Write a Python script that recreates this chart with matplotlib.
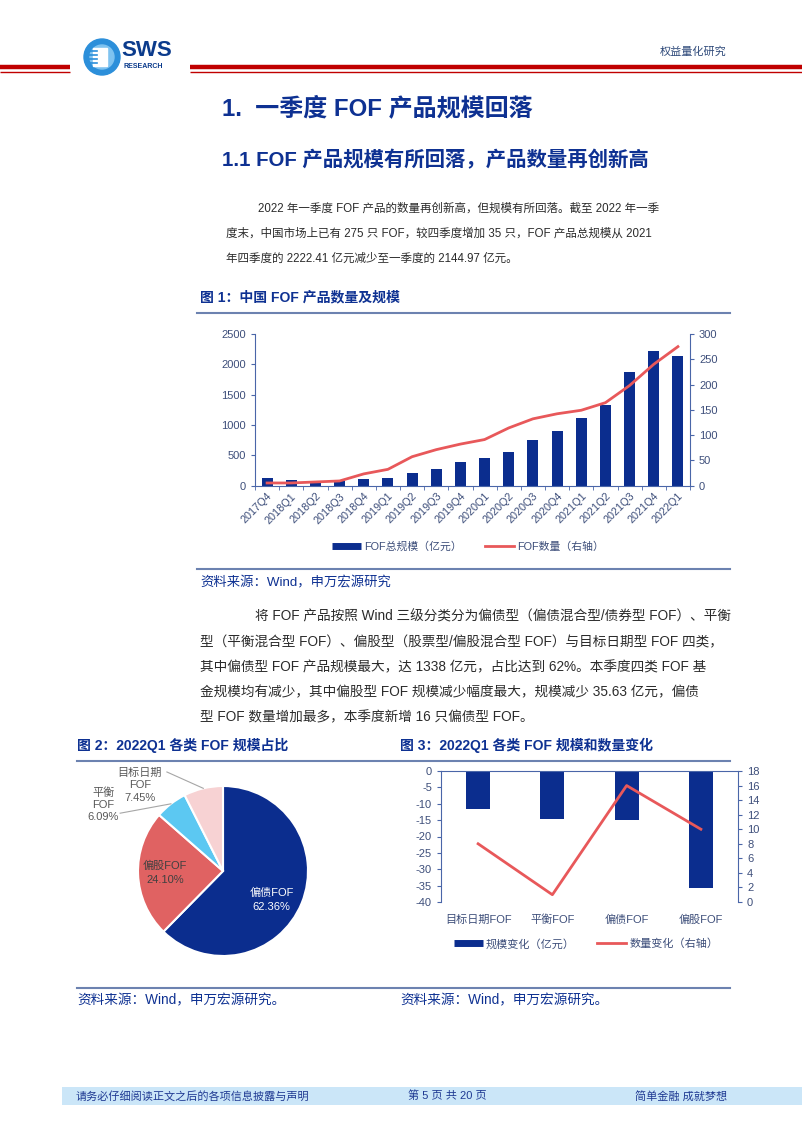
import matplotlib
matplotlib.use('Agg')
import matplotlib.pyplot as plt
from matplotlib.patches import Rectangle, Circle
from matplotlib.lines import Line2D
import numpy as np

plt.rcParams['font.family'] = ['Liberation Sans', 'Noto Sans CJK SC', 'DejaVu Sans']
plt.rcParams['axes.unicode_minus'] = False

# ---- data ----
quarters = ['2017Q4', '2018Q1', '2018Q2', '2018Q3', '2018Q4', '2019Q1', '2019Q2',
            '2019Q3', '2019Q4', '2020Q1', '2020Q2', '2020Q3', '2020Q4', '2021Q1',
            '2021Q2', '2021Q3', '2021Q4', '2022Q1']
fof_scale = [122, 88, 52, 70, 100, 122, 199, 271, 382, 459, 553, 747, 907, 1117,
             1333, 1880, 2222.41, 2144.97]
fof_count = [5, 5, 7, 9, 23, 32, 57, 71, 82, 91, 114, 132, 142, 149, 164, 198, 240, 275]

pie_names = ['偏债FOF', '偏股FOF', '平衡\nFOF', '目标日期\nFOF']
pie_share = [62.36, 24.10, 6.09, 7.45]

fof_types = ['目标日期FOF', '平衡FOF', '偏债FOF', '偏股FOF']
scale_change = [-11.6, -14.7, -14.9, -35.63]
count_change = [8, 1, 16, 10]

para1 = ['2022 年一季度 FOF 产品的数量再创新高，但规模有所回落。截至 2022 年一季',
         '度末，中国市场上已有 275 只 FOF，较四季度增加 35 只，FOF 产品总规模从 2021',
         '年四季度的 2222.41 亿元减少至一季度的 2144.97 亿元。']
para2 = ['将 FOF 产品按照 Wind 三级分类分为偏债型（偏债混合型/债券型 FOF）、平衡',
         '型（平衡混合型 FOF）、偏股型（股票型/偏股混合型 FOF）与目标日期型 FOF 四类，',
         '其中偏债型 FOF 产品规模最大，达 1338 亿元，占比达到 62%。本季度四类 FOF 基',
         '金规模均有减少，其中偏股型 FOF 规模减少幅度最大，规模减少 35.63 亿元，偏债',
         '型 FOF 数量增加最多，本季度新增 16 只偏债型 FOF。']

BLUE = '#0B2D8E'
RED = '#E8585A'
TITLE = '#0E3192'
TICK = '#3D4E7A'
SPINE = '#4A66A8'
RULE = '#6C82B0'
BODY = '#2B2B2B'

W, H = 802, 1133


def box(x0, y0, x1, y1):
    return [x0 / W, 1 - y1 / H, (x1 - x0) / W, (y1 - y0) / H]


fig = plt.figure(figsize=(W / 100, H / 100), dpi=100)
bg = fig.add_axes([0, 0, 1, 1])
bg.set_xlim(0, W)
bg.set_ylim(H, 0)
bg.axis('off')

# ---- header ----
bg.add_patch(Circle((102, 57), 18, color='#2C8FDA'))
bg.add_patch(Circle((102, 57), 12, color='#7FC3F0'))
bg.add_patch(Rectangle((93, 48), 14, 18, color='white'))
for yy in (51, 55, 59, 63):
    bg.plot([86, 97], [yy, yy], color='#2C8FDA', lw=1.2)
bg.text(121, 51, 'SWS', fontsize=16, fontweight='bold', color='#0B3B8C', va='center')
bg.text(123, 67, 'RESEARCH', fontsize=5, fontweight='bold', color='#0B3B8C', va='center')
bg.plot([190, W], [66.5, 66.5], color='#C00000', lw=3.2, solid_capstyle='butt')
bg.plot([190, W], [72, 72], color='#C00000', lw=1, solid_capstyle='butt')
bg.plot([0, 70], [66.5, 66.5], color='#C00000', lw=3.2, solid_capstyle='butt')
bg.plot([0, 70], [72, 72], color='#C00000', lw=1, solid_capstyle='butt')
bg.text(727, 52, '权益量化研究', fontsize=8, color='#2F4A7A', ha='right', va='center')

# ---- titles and body text ----
bg.text(222, 108, '1.  一季度 FOF 产品规模回落', fontsize=17.3, fontweight='bold',
        color=TITLE, va='center')
bg.text(222, 160, '1.1 FOF 产品规模有所回落，产品数量再创新高', fontsize=14.7,
        fontweight='bold', color=TITLE, va='center')

for i, line in enumerate(para1):
    bg.text(258 if i == 0 else 226, 209 + i * 25, line, fontsize=8.3, color=BODY, va='center')

bg.text(200, 297, '图 1：中国 FOF 产品数量及规模', fontsize=10, fontweight='bold',
        color=TITLE, va='center')
bg.plot([197, 730], [313, 313], color=RULE, lw=1.5)
bg.plot([197, 730], [569, 569], color=RULE, lw=1.5)
bg.text(200, 583, '资料来源：Wind，申万宏源研究', fontsize=9.6, color=TITLE, va='center')

for i, line in enumerate(para2):
    bg.text(255 if i == 0 else 200, 617 + i * 25, line, fontsize=9.8, color=BODY, va='center')

bg.text(77, 745, '图 2：2022Q1 各类 FOF 规模占比', fontsize=10, fontweight='bold',
        color=TITLE, va='center')
bg.text(400, 745, '图 3：2022Q1 各类 FOF 规模和数量变化', fontsize=10, fontweight='bold',
        color=TITLE, va='center')
bg.plot([77, 730], [761, 761], color=RULE, lw=1.5)
bg.plot([77, 730], [988, 988], color=RULE, lw=1.5)
bg.text(77, 1000, '资料来源：Wind，申万宏源研究。', fontsize=9.8, color=TITLE, va='center')
bg.text(400, 1000, '资料来源：Wind，申万宏源研究。', fontsize=9.8, color=TITLE, va='center')

# ---- footer ----
bg.add_patch(Rectangle((62, 1087), W - 62, 18, color='#CBE6F8', lw=0))
bg.text(76, 1096, '请务必仔细阅读正文之后的各项信息披露与声明', fontsize=8, color='#1F3A93', va='center')
bg.text(447, 1096, '第 5 页 共 20 页', fontsize=8, color='#1F3A93', va='center', ha='center')
bg.text(727, 1096, '简单金融 成就梦想', fontsize=8, color='#1F3A93', va='center', ha='right')

# ---- chart 1 ----
x = np.arange(len(quarters))
ax1 = fig.add_axes(box(255, 334, 690, 485.5))
ax1.bar(x, fof_scale, width=0.45, color=BLUE, zorder=2)
ax1.set_xlim(-0.5, len(quarters) - 0.5)
ax1.set_ylim(0, 2500)
ax1.set_yticks(range(0, 2501, 500))
ax1.set_xticks(x)
ax1.set_xticklabels(quarters, rotation=45, ha='right', rotation_mode='anchor')
ax1.set_xticks(np.arange(-0.5, len(quarters), 1), minor=True)
ax1.tick_params(axis='x', which='major', length=0, labelsize=7.8, labelcolor=TICK, pad=4)
ax1.tick_params(axis='x', which='minor', length=3, color=SPINE)
ax1.tick_params(axis='y', length=3, color=SPINE, labelsize=8, labelcolor=TICK)
for s in ('top', 'right'):
    ax1.spines[s].set_visible(False)
for s in ('left', 'bottom'):
    ax1.spines[s].set_color(SPINE)
ax1.patch.set_alpha(0)

ax1r = ax1.twinx()
ax1r.plot(x, fof_count, color=RED, lw=2)
ax1r.set_ylim(0, 300)
ax1r.set_yticks(range(0, 301, 50))
ax1r.tick_params(axis='y', length=3, color=SPINE, labelsize=8, labelcolor=TICK)
for s in ('top', 'left', 'bottom'):
    ax1r.spines[s].set_visible(False)
ax1r.spines['right'].set_color(SPINE)

h1 = [Line2D([0], [0], color=BLUE, lw=5, solid_capstyle='butt'),
      Line2D([0], [0], color=RED, lw=2)]
fig.legend(h1, ['FOF总规模（亿元）', 'FOF数量（右轴）'], loc='center',
           bbox_to_anchor=(468 / W, 1 - 547 / H), ncol=2, frameon=False, fontsize=7.8,
           handlelength=2.6, handletextpad=0.3, columnspacing=2.2, labelcolor=TICK)

# ---- chart 2: pie ----
axp = fig.add_axes(box(138, 786, 308, 956))
pie_colors = ['#0B2D8E', '#E06262', '#5CC8F2', '#F7D2D3']
axp.pie(pie_share, colors=pie_colors, startangle=90, counterclock=False,
        wedgeprops=dict(edgecolor='white', linewidth=1.5))
axp.set_xlim(-1, 1)
axp.set_ylim(-1, 1)
share = np.array(pie_share)
cum = np.cumsum(share) - share / 2
mid = np.deg2rad(90 - cum * 3.6)
lab = [f'{n}\n{v:.2f}%' for n, v in zip(pie_names, pie_share)]
axp.text(0.62 * np.cos(mid[0]), 0.62 * np.sin(mid[0]) - 0.1, lab[0], ha='center', va='center',
         color='white', fontsize=8, linespacing=1.5)
axp.text(0.68 * np.cos(mid[1]), 0.68 * np.sin(mid[1]), lab[1], ha='center', va='center',
         color='#404040', fontsize=8, linespacing=1.5)
axp.text(-1.41, 0.78, lab[2], ha='center', va='center', color='#595959', fontsize=8,
         linespacing=1.3)
axp.text(-0.98, 1.01, lab[3], ha='center', va='center', color='#595959', fontsize=8,
         linespacing=1.3)
axp.plot([-1.21, np.cos(mid[2])], [0.68, np.sin(mid[2])], color='#A6A6A6', lw=0.8, clip_on=False)
axp.plot([-0.66, np.cos(mid[3])], [1.165, np.sin(mid[3])], color='#A6A6A6', lw=0.8, clip_on=False)

# ---- chart 3 ----
xc = np.arange(len(fof_types))
ax3 = fig.add_axes(box(441, 771, 738, 902))
ax3.bar(xc, scale_change, width=0.32, color=BLUE)
ax3.set_xlim(-0.5, len(fof_types) - 0.5)
ax3.set_ylim(-40, 0)
ax3.set_yticks(range(-40, 1, 5))
ax3.set_xticks(xc)
ax3.set_xticklabels(fof_types)
ax3.tick_params(axis='x', length=0, labelsize=8, labelcolor=TICK, pad=9)
ax3.tick_params(axis='y', length=3, color=SPINE, labelsize=8, labelcolor=TICK)
ax3.spines['bottom'].set_visible(False)
ax3.spines['right'].set_visible(False)
ax3.spines['top'].set_color(SPINE)
ax3.spines['left'].set_color(SPINE)
ax3.patch.set_alpha(0)

ax3r = ax3.twinx()
ax3r.plot(xc, count_change, color=RED, lw=2)
ax3r.set_ylim(0, 18)
ax3r.set_yticks(range(0, 19, 2))
ax3r.tick_params(axis='y', length=3, color=SPINE, labelsize=8, labelcolor=TICK)
for s in ('top', 'left', 'bottom'):
    ax3r.spines[s].set_visible(False)
ax3r.spines['right'].set_color(SPINE)

h3 = [Line2D([0], [0], color=BLUE, lw=5, solid_capstyle='butt'),
      Line2D([0], [0], color=RED, lw=2)]
fig.legend(h3, ['规模变化（亿元）', '数量变化（右轴）'], loc='center',
           bbox_to_anchor=(586 / W, 1 - 944 / H), ncol=2, frameon=False, fontsize=8,
           handlelength=2.6, handletextpad=0.3, columnspacing=2.0, labelcolor=TICK)

fig.savefig('out.png', dpi=100)
